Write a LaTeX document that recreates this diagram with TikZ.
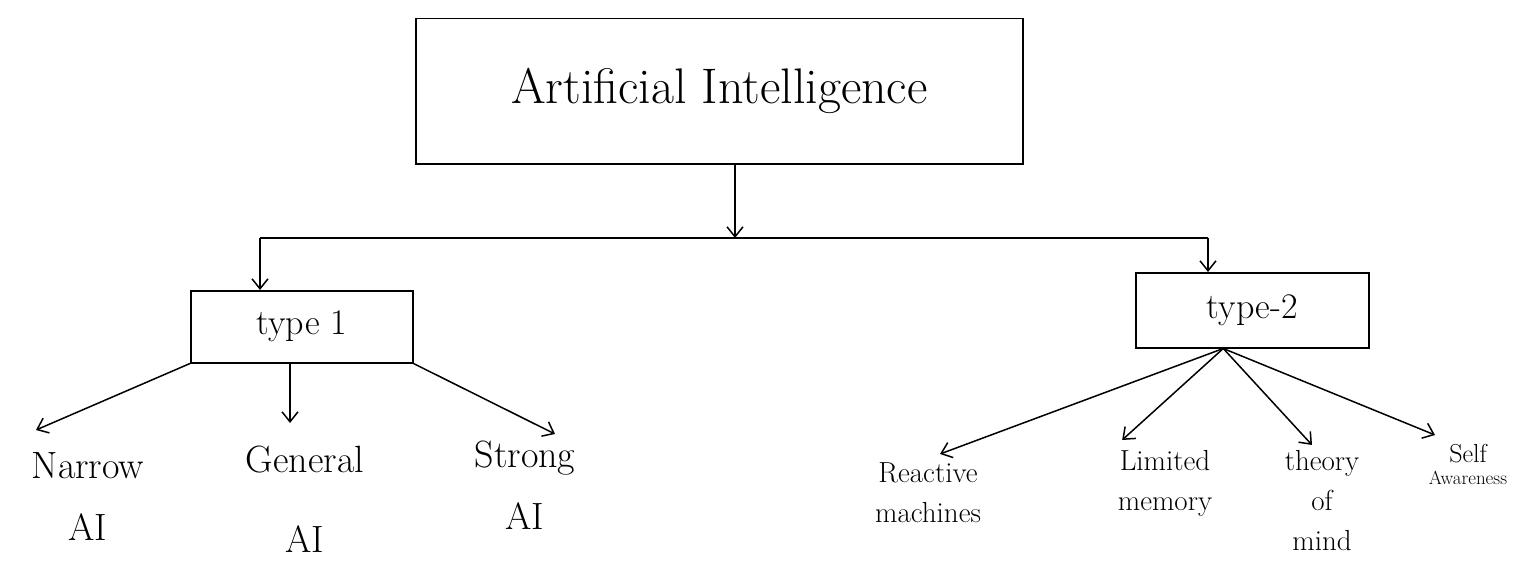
\documentclass[tikz,border=0pt]{standalone}
\usetikzlibrary{arrows.meta}
\begin{document}
\begin{tikzpicture}[x=1pt,y=-1pt,line width=1.5pt,
  arr/.style={-{Straight Barb[length=10pt,width=16pt,line width=1.5pt]}},
  box/.style={draw,inner sep=0pt,anchor=north west},
  lblL/.style={font=\fontsize{38}{62}\selectfont,align=center,anchor=north,inner sep=0pt},
  lblR/.style={font=\fontsize{29}{40}\selectfont,align=center,anchor=north,inner sep=0pt}]
\useasboundingbox (0,0) rectangle (1533,586);
% main box
\node[box,minimum width=607pt,minimum height=145pt,font=\fontsize{50}{56}\selectfont] (ai) at (415,18) {Artificial Intelligence};
% distribution bar
\coordinate (b) at (735,238);
\coordinate (bl) at (260,238);
\coordinate (br) at (1208,238);
\node[box,minimum width=222pt,minimum height=72pt,font=\fontsize{36}{40}\selectfont] (t1) at (190,290) {type 1};
\node[box,minimum width=233pt,minimum height=75pt,font=\fontsize{36}{40}\selectfont] (t2) at (1135,272) {type-2};
\draw[arr] (ai.south -| b) -- (b);
\draw (bl) -- (br);
\draw[arr] (bl) -- (bl |- t1.north);
\draw[arr] (br) -- (br |- t2.north);
% type 1 children
\node[lblL] (narrow) at (88,452) {Narrow\\AI};
\node[lblL] (general) at (305,445) {General\\[18pt]AI};
\node[lblL] (strong) at (525,440) {Strong\\AI};
\draw[arr] (t1.south west) -- ([xshift=5pt,yshift=22pt]narrow.north west);
\draw[arr] ([xshift=100pt]t1.south west) -- ([xshift=100pt,yshift=22pt]t1.south west |- general.north);
\draw[arr] (t1.south east) -- ([xshift=30pt,yshift=6pt]strong.north);
% type 2 children
\coordinate (t2o) at ([xshift=-29pt]t2.south);
\node[lblR] (react) at (928,462) {Reactive\\machines};
\node[lblR] (limited) at (1165,450) {Limited\\memory};
\node[lblR] (theory) at (1322,450) {theory\\of\\mind};
\node[align=center,anchor=north,inner sep=0pt] (self) at (1468,443) {{\fontsize{26}{26}\selectfont Self}\\[8pt]{\fontsize{19}{22}\selectfont Awareness}};
\draw[arr] (t2o) -- ([xshift=12pt,yshift=8pt]react.north);
\draw[arr] (t2o) -- ([xshift=5pt,yshift=10pt]limited.north west);
\draw[arr] (t2o) -- ([xshift=-10pt,yshift=5pt]theory.north);
\draw[arr] (t2o) -- ([xshift=-33pt,yshift=8pt]self.north);
\end{tikzpicture}
\end{document}
